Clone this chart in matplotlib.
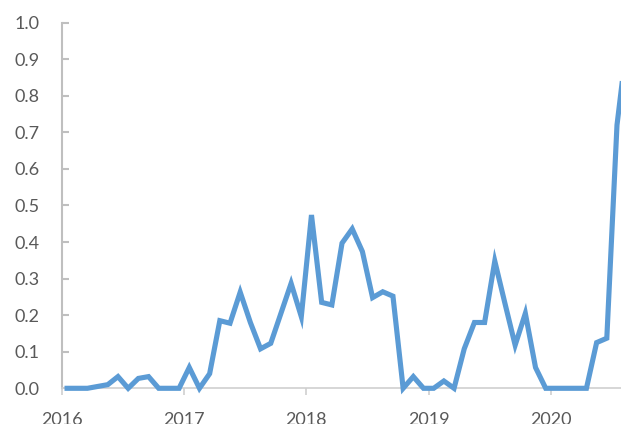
import numpy as np
import matplotlib.pyplot as plt

## monthly values, Jan 2016 onwards
start_year = 2016
values = [0, 0, 0, 0.005, 0.01, 0.032, 0.0, 0.027, 0.032, 0, 0, 0,
          0.057, 0, 0.04, 0.185, 0.178, 0.263, 0.18, 0.108, 0.123, 0.205, 0.287, 0.196,
          0.474, 0.235, 0.228, 0.397, 0.436, 0.374, 0.248, 0.264, 0.252, 0, 0.032, 0,
          0, 0.02, 0, 0.108, 0.18, 0.18, 0.348, 0.232, 0.118, 0.205, 0.057, 0,
          0, 0, 0, 0, 0.125, 0.137, 0.72, 0.95]
year_ticks = [2016, 2017, 2018, 2019, 2020]
y_ticks = [0.0, 0.1, 0.2, 0.3, 0.4, 0.5, 0.6, 0.7, 0.8, 0.9, 1.0]

plt.rcParams['font.family'] = ['Lato', 'DejaVu Sans']

x = start_year + (np.arange(len(values)) + 0.5) / 12

fig = plt.figure(figsize=(6.21, 4.24), dpi=100)
ax = fig.add_axes([0.0998, 0.0842, 0.9002, 0.8623])

ax.plot(x, values, color="#5B9BD5", lw=3.7, solid_joinstyle="miter", clip_on=False, zorder=3)

ax.set_xlim(2016, 2016 + 559 / 122.2)
ax.set_ylim(0, 1.0)
ax.set_xticks(year_ticks)
ax.set_xticklabels([str(y) for y in year_ticks])
ax.set_yticks(y_ticks)
ax.set_yticklabels(["%.1f" % v for v in y_ticks])

for s in ["top", "right"]:
    ax.spines[s].set_visible(False)
ax.spines["left"].set_color("#BFBFBF")
ax.spines["left"].set_linewidth(1.5)
ax.spines["bottom"].set_color("#CFCFCF")
ax.spines["bottom"].set_linewidth(1.2)
ax.spines["bottom"].set_linestyle((0, (1, 1)))

ax.tick_params(axis="y", direction="in", length=5, width=1.5, color="#BFBFBF",
               labelsize=13, labelcolor="#595959", pad=16)
ax.tick_params(axis="x", direction="out", length=5, width=1.2, color="#CFCFCF",
               labelsize=13, labelcolor="#595959", pad=12)

fig.savefig("out.png", dpi=100)
